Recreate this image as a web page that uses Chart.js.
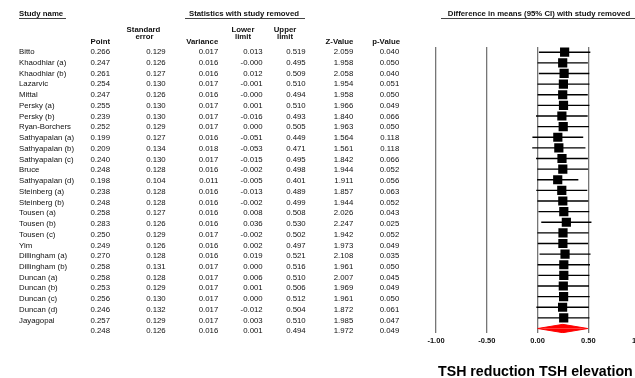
<!DOCTYPE html>
<html>
<head>
<meta charset="utf-8">
<script src="https://cdn.jsdelivr.net/npm/chart.js@4/dist/chart.umd.min.js"></script>
<style>
  html, body { margin: 0; padding: 0; background: #fff; overflow: hidden; width: 635px; height: 378px; }
  #page { position: relative; width: 635px; height: 378px; overflow: hidden; font-family: "Liberation Sans", Arial, sans-serif; color: #111; }
  #plot { position: absolute; left: 0; top: 0; }
  .t { position: absolute; font-size: 7.8px; line-height: 1; white-space: nowrap; transform: translateY(-50%); }
  .b { font-weight: bold; }
  .r { text-align: right; width: 120px; }
  .c { text-align: center; width: 300px; }
  .rule { position: absolute; height: 0; border-top: 1px solid #444; }
  #axisTitle { position: absolute; left: 438px; top: 371px; font-size: 14.2px; font-weight: bold; white-space: nowrap; transform: translateY(-50%); line-height: 1; color: #000; }
</style>
</head>
<body>
<div id="page">
  <canvas id="plot" width="660" height="378"></canvas>
  <div id="axisTitle">TSH reduction TSH elevation</div>
</div>
<script>
// Leave-one-out meta-analysis: statistics with each study removed
const studies = ["Bitto","Khaodhiar (a)","Khaodhiar (b)","Lazarvic","Mittal","Persky (a)","Persky (b)","Ryan-Borchers","Sathyapalan (a)","Sathyapalan (b)","Sathyapalan (c)","Bruce","Sathyapalan (d)","Steinberg (a)","Steinberg (b)","Tousen (a)","Tousen (b)","Tousen (c)","Yim","Dillingham (a)","Dillingham (b)","Duncan (a)","Duncan (b)","Duncan (c)","Duncan (d)","Jayagopal"];
const point    = [0.266,0.247,0.261,0.254,0.247,0.255,0.239,0.252,0.199,0.209,0.240,0.248,0.198,0.238,0.248,0.258,0.283,0.250,0.249,0.270,0.258,0.258,0.253,0.256,0.246,0.257];
const stdErr   = [0.129,0.126,0.127,0.130,0.126,0.130,0.130,0.129,0.127,0.134,0.130,0.128,0.104,0.128,0.128,0.127,0.126,0.129,0.126,0.128,0.131,0.128,0.129,0.130,0.132,0.129];
const variance = [0.017,0.016,0.016,0.017,0.016,0.017,0.017,0.017,0.016,0.018,0.017,0.016,0.011,0.016,0.016,0.016,0.016,0.017,0.016,0.016,0.017,0.017,0.017,0.017,0.017,0.017];
const lower    = [0.013,-0.0003,0.012,-0.001,-0.0003,0.001,-0.016,0.000,-0.051,-0.053,-0.015,-0.002,-0.005,-0.013,-0.002,0.008,0.036,-0.002,0.002,0.019,0.000,0.006,0.001,0.000,-0.012,0.003];
const upper    = [0.519,0.495,0.509,0.510,0.494,0.510,0.493,0.505,0.449,0.471,0.495,0.498,0.401,0.489,0.499,0.508,0.530,0.502,0.497,0.521,0.516,0.510,0.506,0.512,0.504,0.510];
const zValue   = [2.059,1.958,2.058,1.954,1.958,1.966,1.840,1.963,1.564,1.561,1.842,1.944,1.911,1.857,1.944,2.026,2.247,1.942,1.973,2.108,1.961,2.007,1.969,1.961,1.872,1.985];
const pValue   = [0.040,0.050,0.040,0.051,0.050,0.049,0.066,0.050,0.118,0.118,0.066,0.052,0.056,0.063,0.052,0.043,0.025,0.052,0.049,0.035,0.050,0.045,0.049,0.050,0.061,0.047];

// Pooled estimate
const summary = { point: 0.248, stdErr: 0.126, variance: 0.016, lower: 0.001, upper: 0.494, zValue: 1.972, pValue: 0.049 };

const xTicks = [-1.0, -0.5, 0.0, 0.5, 1.0];

// ---- table layout ----
const page = document.getElementById('page');
const ROW0 = 52.2, ROW_STEP = 10.74;
const columns = [
  { values: point,    right: 110.0, key: 'point' },
  { values: stdErr,   right: 165.7, key: 'stdErr' },
  { values: variance, right: 218.3, key: 'variance' },
  { values: lower,    right: 262.7, key: 'lower' },
  { values: upper,    right: 305.7, key: 'upper' },
  { values: zValue,   right: 353.3, key: 'zValue' },
  { values: pValue,   right: 399.3, key: 'pValue' }
];

function addText(txt, cls, x, y) {
  const d = document.createElement('div');
  d.className = 't ' + cls;
  d.textContent = txt;
  if (cls.includes('r')) d.style.left = (x - 120) + 'px';
  else if (cls.includes('c')) d.style.left = (x - 150) + 'px';
  else d.style.left = x + 'px';
  d.style.top = y + 'px';
  page.appendChild(d);
  return d;
}
function addRule(x1, x2, y) {
  const d = document.createElement('div');
  d.className = 'rule';
  d.style.left = x1 + 'px';
  d.style.width = (x2 - x1) + 'px';
  d.style.top = y + 'px';
  page.appendChild(d);
}

// headers
addText('Study name', 'b', 19, 14);
addRule(19, 65.7, 18.3);
addText('Statistics with study removed', 'b c', 244, 14);
addRule(185, 305, 18.3);
addText('Difference in means (95% CI) with study removed', 'b c', 539, 14);
addRule(440.7, 640, 17.8);

addText('Point', 'b r', 110, 42.3);
addText('Standard', 'b c', 143.5, 29.5);
addText('error', 'b c', 144.5, 36.7);
addText('Variance', 'b r', 218.3, 42.3);
addText('Lower', 'b c', 243, 29.5);
addText('limit', 'b c', 243, 36.7);
addText('Upper', 'b c', 285, 29.5);
addText('limit', 'b c', 285, 36.7);
addText('Z-Value', 'b r', 353.3, 42.3);
addText('p-Value', 'b r', 400, 42.3);

// rows
studies.forEach((name, i) => {
  const y = ROW0 + i * ROW_STEP;
  addText(name, '', 19, y);
  columns.forEach(col => addText(col.values[i].toFixed(3), 'r', col.right, y));
});
const ySum = ROW0 + studies.length * ROW_STEP;
columns.forEach(col => addText(summary[col.key].toFixed(3), 'r', col.right, ySum));

// ---- forest plot ----
const n = studies.length;
const DIAMOND_HALF = 0.39;   // half height of the pooled diamond, in row units

const ciData = [];
for (let i = 0; i < n; i++) {
  ciData.push({ x: lower[i], y: i }, { x: upper[i], y: i }, { x: upper[i], y: null });
}
const boxData = point.map((p, i) => ({ x: p, y: i }));
const diamondTop = [
  { x: summary.lower, y: n }, { x: summary.point, y: n - DIAMOND_HALF }, { x: summary.upper, y: n }
];
const diamondBottom = [
  { x: summary.lower, y: n }, { x: summary.point, y: n + DIAMOND_HALF }, { x: summary.upper, y: n }
];

new Chart(document.getElementById('plot'), {
  type: 'scatter',
  data: {
    datasets: [
      { data: boxData, pointStyle: 'rect', pointRadius: 6.5, backgroundColor: '#000', borderWidth: 0, order: 0 },
      { data: diamondTop, showLine: true, pointRadius: 0, borderColor: '#ff0000', borderWidth: 1, backgroundColor: '#ff0000', fill: { value: n }, tension: 0, order: 1 },
      { data: diamondBottom, showLine: true, pointRadius: 0, borderColor: '#ff0000', borderWidth: 1, backgroundColor: '#ff0000', fill: { value: n }, tension: 0, order: 1 },
      { data: ciData, showLine: true, spanGaps: false, pointRadius: 0, borderColor: '#000', borderWidth: 1.4, order: 2 }
    ]
  },
  options: {
    responsive: false,
    animation: false,
    events: [],
    layout: { padding: { left: 436, right: 20.8, top: 46.9, bottom: 29.7 } },
    plugins: { legend: { display: false }, tooltip: { enabled: false } },
    scales: {
      x: {
        type: 'linear',
        min: -1, max: 1,
        afterBuildTicks: s => { s.ticks = xTicks.map(v => ({ value: v })); },
        ticks: {
          autoSkip: false,
          padding: 3,
          color: '#111',
          font: { family: 'Liberation Sans, Arial, sans-serif', size: 7.5, weight: 'bold' },
          callback: v => Number(v).toFixed(2)
        },
        grid: { color: '#767676', lineWidth: 1.3, drawTicks: false },
        border: { display: false }
      },
      y: {
        type: 'linear',
        display: false,
        reverse: true,
        min: -0.5, max: n + 0.45
      }
    }
  }
});
</script>
</body>
</html>
